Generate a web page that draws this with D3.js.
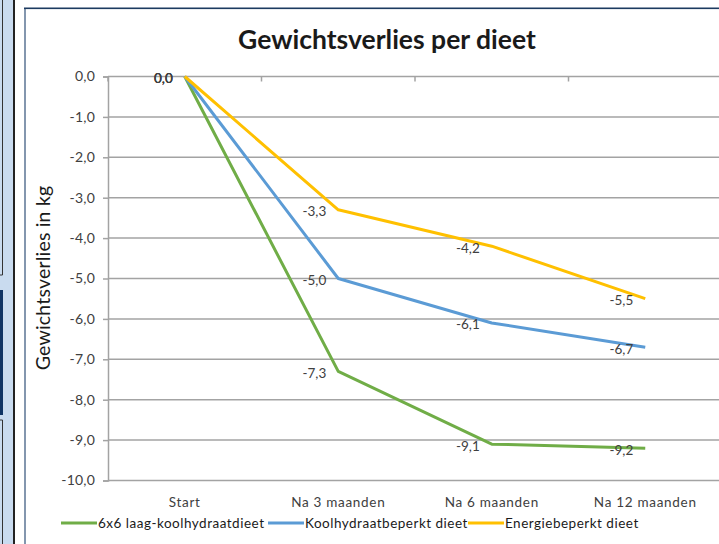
<!DOCTYPE html>
<html>
<head>
<meta charset="utf-8">
<script src="https://cdn.jsdelivr.net/npm/d3@7/dist/d3.min.js"></script>
<style>
  html, body { margin: 0; padding: 0; background: #fff; }
  svg { display: block; }
  text { font-family: Lato, "Open Sans", sans-serif; }
</style>
</head>
<body>
<script>
// Weight change per diet (kg)
const categories = ["Start", "Na 3 maanden", "Na 6 maanden", "Na 12 maanden"];
const seriesNames = ["6x6 laag-koolhydraatdieet", "Koolhydraatbeperkt dieet", "Energiebeperkt dieet"];
const lowCarb66 = [0.0, -7.3, -9.1, -9.2];
const lowCarb = [0.0, -5.0, -6.1, -6.7];
const energy = [0.0, -3.3, -4.2, -5.5];
const yTicks = [0, -1, -2, -3, -4, -5, -6, -7, -8, -9, -10];
const colors = ["#70ad47", "#5b9bd5", "#ffc000"];

const series = [lowCarb66, lowCarb, energy].map((values, i) => ({
  name: seriesNames[i], color: colors[i],
  points: values.map((v, j) => ({ cat: categories[j], value: v }))
}));

const W = 719, H = 544;
const svg = d3.select("body").append("svg").attr("width", W).attr("height", H);

// Surrounding window decoration on the left
const deco = svg.append("g");
deco.append("rect").attr("x", 0).attr("y", 0).attr("width", 13).attr("height", H).attr("fill", "#c9dbef");
deco.append("path").attr("d", "M2.5,0V275H0").attr("fill", "none").attr("stroke", "#333").attr("stroke-width", 1);
deco.append("rect").attr("x", 0).attr("y", 290).attr("width", 3).attr("height", 125).attr("fill", "#0f3464");
deco.append("path").attr("d", "M0,420H2.5V544").attr("fill", "none").attr("stroke", "#333").attr("stroke-width", 1);
deco.append("rect").attr("x", 13).attr("y", 0).attr("width", 2).attr("height", H).attr("fill", "#222");
deco.append("rect").attr("x", 24).attr("y", 8).attr("width", 2).attr("height", H - 8).attr("fill", "#8396ae");
deco.append("rect").attr("x", 24).attr("y", 7.5).attr("width", W - 24).attr("height", 1.6).attr("fill", "#1c3a60");

// Plot area
const plot = { left: 108, right: 722, top: 76.5, bottom: 480.5 };
const x = d3.scalePoint().domain(categories).range([plot.left, plot.right]).padding(0.5);
const y = d3.scaleLinear().domain([0, -10]).range([plot.top, plot.bottom]);
const gridColor = "#a3a3a3";
const fmt = v => d3.format(".1f")(v).replace(".", ",").replace("−", "-");

// Horizontal gridlines
svg.append("g").selectAll("line").data(yTicks.filter(d => d !== 0)).join("line")
  .attr("x1", plot.left).attr("x2", plot.right)
  .attr("y1", d => y(d)).attr("y2", d => y(d))
  .attr("stroke", gridColor).attr("stroke-width", 1.5);

// Value axis
const yAxis = d3.axisLeft(y).tickValues(yTicks).tickSize(5).tickPadding(8).tickFormat(fmt);
const gy = svg.append("g").attr("transform", `translate(${plot.left},0)`).call(yAxis);
gy.select(".domain").attr("stroke", gridColor).attr("stroke-width", 1.5);
gy.selectAll(".tick line").attr("stroke", gridColor).attr("stroke-width", 1.5);
gy.selectAll(".tick text").attr("fill", "#404040").attr("font-size", 14)
  .attr("font-family", "Lato, sans-serif").attr("letter-spacing", 0.2);

// Category axis sits on the zero line, labels at the bottom
const step = x.step();
const bounds = d3.range(categories.length + 1).map(i => plot.left + i * step);
svg.append("line").attr("x1", plot.left).attr("x2", plot.right)
  .attr("y1", y(0)).attr("y2", y(0)).attr("stroke", gridColor).attr("stroke-width", 1.5);
svg.append("g").selectAll("line").data(bounds).join("line")
  .attr("x1", d => d).attr("x2", d => d)
  .attr("y1", y(0)).attr("y2", y(0) + 5)
  .attr("stroke", gridColor).attr("stroke-width", 1.5);
svg.append("g").selectAll("text").data(categories).join("text")
  .attr("x", d => x(d)).attr("y", 507)
  .attr("text-anchor", "middle").attr("fill", "#404040").attr("font-size", 13.5)
  .attr("letter-spacing", 0.7)
  .text(d => d);

// Lines
const line = d3.line().x(d => x(d.cat)).y(d => y(d.value));
svg.append("g").selectAll("path").data(series).join("path")
  .attr("d", d => line(d.points))
  .attr("fill", "none").attr("stroke", d => d.color)
  .attr("stroke-width", 3).attr("stroke-linejoin", "round").attr("stroke-linecap", "butt");

// Data labels, left of each point
svg.append("g").selectAll("g").data(series).join("g")
  .selectAll("text").data(d => d.points).join("text")
  .attr("x", d => x(d.cat) - 12).attr("y", d => y(d.value) + 1.5)
  .attr("text-anchor", "end").attr("dominant-baseline", "central")
  .attr("fill", "#404040").attr("font-size", 13.5)
  .text(d => fmt(d.value));

// Title
svg.append("text").attr("x", 387).attr("y", 49).attr("text-anchor", "middle")
  .attr("font-size", 26.5).attr("font-weight", "bold").attr("fill", "#1a1a1a")
  .text("Gewichtsverlies per dieet");

// Value axis title
svg.append("text").attr("transform", "translate(50,278) rotate(-90)")
  .attr("text-anchor", "middle").attr("font-size", 19.5).attr("fill", "#1a1a1a")
  .attr("letter-spacing", 0.2)
  .text("Gewichtsverlies in kg");

// Legend
const legendX = [61, 268, 468];
const lg = svg.append("g").selectAll("g").data(series).join("g")
  .attr("transform", (d, i) => `translate(${legendX[i]},523)`);
lg.append("line").attr("x1", 0).attr("x2", 36).attr("y1", 0).attr("y2", 0)
  .attr("stroke", d => d.color).attr("stroke-width", 3);
lg.append("text").attr("x", 37).attr("y", 0).attr("dominant-baseline", "central")
  .attr("font-size", 13.5).attr("fill", "#1a1a1a").attr("letter-spacing", 0.5)
  .text(d => d.name);
</script>
</body>
</html>
